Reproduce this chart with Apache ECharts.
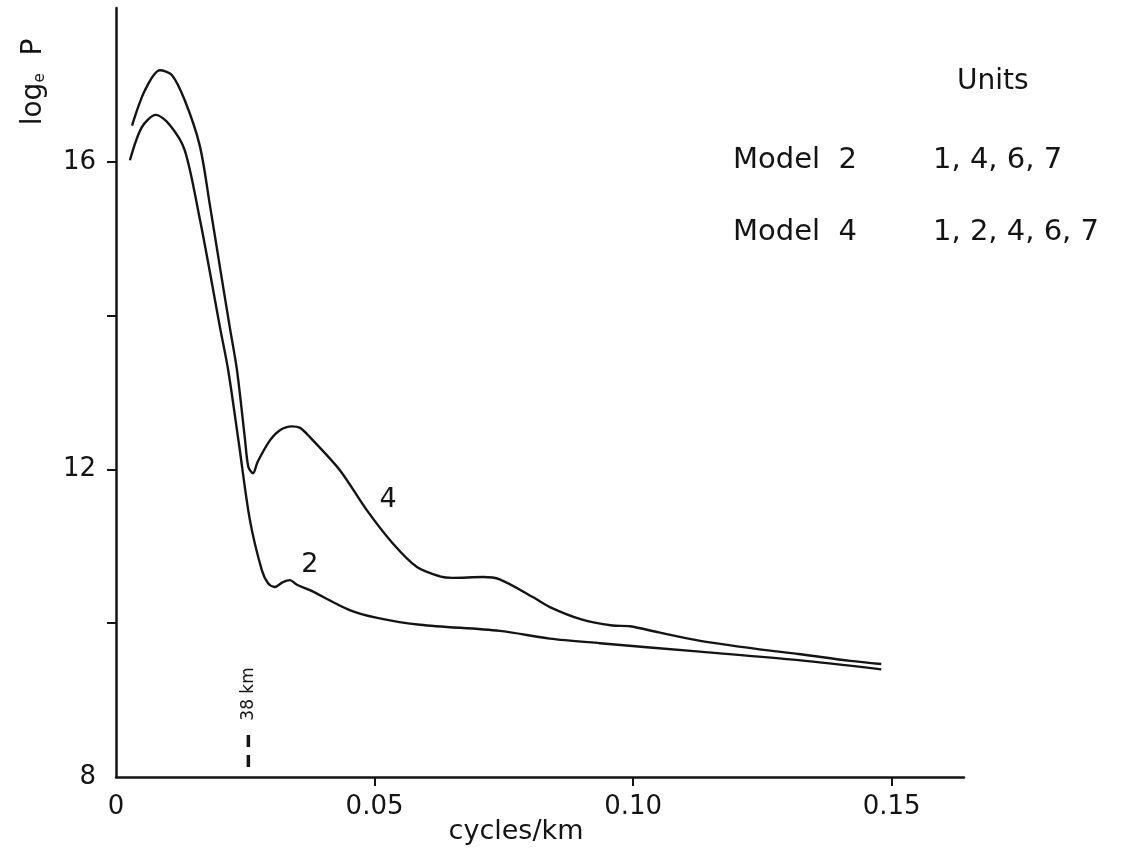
<!DOCTYPE html>
<html>
<head>
<meta charset="utf-8">
<script src="https://cdn.jsdelivr.net/npm/echarts@6/dist/echarts.min.js"></script>
<style>
html,body{margin:0;padding:0;background:#fff;}
#chart{width:1127px;height:851px;}
</style>
</head>
<body>
<div id="chart"></div>
<script>
// ---- data ----
const curve4X = [0.0031,0.0056,0.0085,0.0108,0.0133,0.0162,0.0182,0.0201,0.0220,0.0234,0.0249,0.0256,0.0265,0.0274,0.0298,0.0317,0.0340,0.0356,0.0375,0.0433,0.0485,0.0535,0.0582,0.0626,0.0651,0.0709,0.0742,0.0806,0.0839,0.0900,0.0960,0.0994,0.1050,0.1130,0.1245,0.1320,0.1420,0.1480];
const curve4Y = [16.47,16.93,17.19,17.13,16.80,16.21,15.42,14.63,13.85,13.29,12.42,12.03,11.95,12.10,12.38,12.51,12.56,12.54,12.42,11.99,11.47,11.04,10.73,10.61,10.59,10.60,10.57,10.34,10.21,10.05,9.97,9.96,9.88,9.77,9.66,9.60,9.51,9.47];
const curve2X = [0.0027,0.0050,0.0077,0.0104,0.0133,0.0162,0.0182,0.0201,0.0217,0.0238,0.0259,0.0282,0.0294,0.0307,0.0322,0.0336,0.0350,0.0375,0.0452,0.0505,0.0588,0.0742,0.0839,0.0936,0.1129,0.1320,0.1480];
const curve2Y = [16.02,16.45,16.61,16.48,16.15,15.26,14.55,13.85,13.29,12.32,11.34,10.69,10.52,10.47,10.53,10.56,10.50,10.43,10.17,10.07,9.98,9.90,9.80,9.74,9.63,9.52,9.40];
const curveLabels = [{name:'4', x:0.0526, y:11.60}, {name:'2', x:0.0375, y:10.76}];
const marker38X = 0.0256;          // 1/38 cycles per km
const marker38Y = [8.13, 8.55];
const marker38LabelY = 9.08;
const xTickValues = [0.05, 0.10, 0.15];
const xLabelValues = [0, 0.05, 0.10, 0.15];
const yTickValues = [10, 12, 14, 16];
const yLabelValues = [8, 12, 16];
const legendRows = [['Model  2', '1, 4, 6, 7'], ['Model  4', '1, 2, 4, 6, 7']];

const ink = '#141414';
const FONT = 'DejaVu Sans';
const zip = (xs, ys) => xs.map((x, i) => [x, ys[i]]);

const chart = echarts.init(document.getElementById('chart'), null, {renderer:'canvas'});
chart.setOption({
  backgroundColor:'#ffffff',
  animation:false,
  textStyle:{fontFamily:FONT, color:ink},
  grid:{left:116, right:163, top:8, bottom:74, containLabel:false},
  xAxis:{
    type:'value', min:0, max:0.164,
    axisLine:{show:true, lineStyle:{color:ink, width:2.5}},
    axisTick:{show:true, customValues:xTickValues, length:9, lineStyle:{color:ink, width:2}},
    axisLabel:{show:true, customValues:xLabelValues, margin:17, fontSize:26, color:ink, fontFamily:FONT,
      formatter:v => v === 0 ? '0' : v.toFixed(2)},
    splitLine:{show:false}
  },
  yAxis:{
    type:'value', min:8, max:18, interval:2,
    axisLine:{show:true, lineStyle:{color:ink, width:2.5}},
    axisTick:{show:true, customValues:yTickValues, length:9, lineStyle:{color:ink, width:2}},
    axisLabel:{show:true, customValues:yLabelValues, margin:20, fontSize:26, color:ink, fontFamily:FONT},
    splitLine:{show:false}
  },
  series:[
    {type:'line', data:zip(curve4X, curve4Y), showSymbol:false, smooth:0.3,
     lineStyle:{color:ink, width:2.4}},
    {type:'line', data:zip(curve2X, curve2Y), showSymbol:false, smooth:0.3,
     lineStyle:{color:ink, width:2.4}},
    {type:'line', data:marker38Y.map(y => [marker38X, y]), showSymbol:false,
     lineStyle:{color:ink, width:3.5, type:[12,8]}},
    {type:'scatter', symbolSize:0, data:[[marker38X, marker38LabelY]], itemStyle:{opacity:1, color:ink},
     label:{show:true, position:'inside', formatter:'38 km', rotate:90, fontSize:17, color:ink, fontFamily:FONT,
       textBorderWidth:0}},
    {type:'scatter', symbolSize:0, data:curveLabels.map(d => ({name:d.name, value:[d.x, d.y]})),
     itemStyle:{opacity:1, color:ink},
     label:{show:true, position:'inside', formatter:p => p.name, fontSize:27, color:ink, fontFamily:FONT,
       textBorderWidth:0}}
  ],
  graphic:[
    {type:'text', x:34, y:82, rotation:Math.PI/2,
     style:{text:'log{e|e}  P', fill:ink, font:'28px "DejaVu Sans"', align:'center', verticalAlign:'middle',
       rich:{e:{fontSize:15, fontFamily:FONT, fill:ink, padding:[12,0,0,0]}}}},
    {type:'text', x:516, y:832,
     style:{text:'cycles/km', fill:ink, font:'27px "DejaVu Sans"', align:'center', verticalAlign:'middle'}},
    {type:'text', x:957, y:82,
     style:{text:'Units', fill:ink, font:'28px "DejaVu Sans"', align:'left', verticalAlign:'middle'}},
    {type:'text', x:733, y:160,
     style:{text:legendRows[0][0], fill:ink, font:'29px "DejaVu Sans"', align:'left', verticalAlign:'middle'}},
    {type:'text', x:933, y:160,
     style:{text:legendRows[0][1], fill:ink, font:'29px "DejaVu Sans"', align:'left', verticalAlign:'middle'}},
    {type:'text', x:733, y:232,
     style:{text:legendRows[1][0], fill:ink, font:'29px "DejaVu Sans"', align:'left', verticalAlign:'middle'}},
    {type:'text', x:933, y:232,
     style:{text:legendRows[1][1], fill:ink, font:'29px "DejaVu Sans"', align:'left', verticalAlign:'middle'}}
  ]
});
</script>
</body>
</html>
